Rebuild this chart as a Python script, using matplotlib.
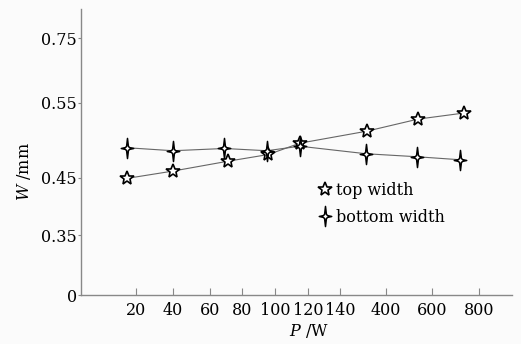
import numpy as np
import matplotlib
matplotlib.use('Agg')
import matplotlib.pyplot as plt
from matplotlib.path import Path

# data
top_p = [15, 40, 71, 96, 115, 292, 539, 734]
top_w = [0.449, 0.459, 0.472, 0.481, 0.496, 0.512, 0.528, 0.536]
bottom_p = [15, 40, 69, 95, 115, 287, 535, 720]
bottom_w = [0.490, 0.486, 0.489, 0.486, 0.492, 0.482, 0.478, 0.474]

x_ticks = [20, 40, 60, 80, 100, 120, 140, 400, 600, 800]
y_ticks = [0, 0.35, 0.45, 0.55, 0.75]
y_tick_labels = ['0', '0.35', '0.45', '0.55', '0.75']

# broken axes of the original: tick value -> position along the axis
x_anchor_val = [-20, 0, 20, 40, 60, 80, 100, 120, 140, 400, 600, 800, 1000]
x_anchor_pos = [62, 99, 136, 173, 210, 242, 275, 308, 340, 386, 432, 479, 526]
y_anchor_val = [-0.1, 0, 0.35, 0.45, 0.55, 0.75, 1.0]
y_anchor_pos = [-17, 0, 59.7, 117.3, 192.7, 257.3, 338]


def x_fwd(v):
    return np.interp(v, x_anchor_val, x_anchor_pos)


def x_inv(u):
    return np.interp(u, x_anchor_pos, x_anchor_val)


def y_fwd(v):
    return np.interp(v, y_anchor_val, y_anchor_pos)


def y_inv(u):
    return np.interp(u, y_anchor_pos, y_anchor_val)


# four pointed "sparkle" marker
c = 0.15
w = 0.62
sparkle = Path([(0, 1), (c * 0.6, c * 1.4), (c, c), (c * 1.4, c * 0.6), (w, 0),
                (c * 1.4, -c * 0.6), (c, -c), (c * 0.6, -c * 1.4), (0, -1),
                (-c * 0.6, -c * 1.4), (-c, -c), (-c * 1.4, -c * 0.6), (-w, 0),
                (-c * 1.4, c * 0.6), (-c, c), (-c * 0.6, c * 1.4), (0, 1)],
               [Path.MOVETO] + [Path.LINETO] * 15 + [Path.CLOSEPOLY])

plt.rcParams['font.family'] = 'DejaVu Serif'
plt.rcParams['mathtext.fontset'] = 'dejavuserif'

fig = plt.figure(figsize=(5.21, 3.44), dpi=100, facecolor='#fbfbfb')
ax = fig.add_axes([81 / 521, 1 - 295 / 344, 431 / 521, 286 / 344])
ax.set_facecolor('#fbfbfb')
ax.set_xscale('function', functions=(x_fwd, x_inv))
ax.set_yscale('function', functions=(y_fwd, y_inv))

ax.plot(top_p, top_w, color='#666666', lw=0.8, zorder=2)
ax.plot(bottom_p, bottom_w, color='#666666', lw=0.8, zorder=2)
ax.plot(top_p, top_w, ls='none', marker='*', ms=10.5, mfc='white', mec='black',
        mew=1.2, zorder=3, label='top width')
ax.plot(bottom_p, bottom_w, ls='none', marker=sparkle, ms=14.5, mfc='white',
        mec='black', mew=1.1, zorder=3, label='bottom width')

ax.set_xlim(-9.7, 940)
ax.set_ylim(0, 0.84)
ax.set_xticks(x_ticks)
ax.set_xticklabels([str(t) for t in x_ticks])
ax.set_yticks(y_ticks)
ax.set_yticklabels(y_tick_labels)
ax.minorticks_off()

for s in ['top', 'right']:
    ax.spines[s].set_visible(False)
for s in ['left', 'bottom']:
    ax.spines[s].set_color('#888888')
    ax.spines[s].set_linewidth(1.0)

ax.tick_params(axis='x', direction='in', length=5, width=0.8, color='#888888',
               labelsize=11.5, pad=5)
ax.tick_params(axis='y', direction='out', length=2.5, width=0.8, color='#888888',
               labelsize=11.5, pad=0.5)

fig.text(24 / 521, 1 - 172 / 344, '$W$ /mm', rotation=90, ha='center',
         va='center', fontsize=11.5)
fig.text(309 / 521, 1 - 331 / 344, '$P$ /W', ha='center', va='center',
         fontsize=11.5)

ax.legend(loc='upper left', bbox_to_anchor=(318 / 521, 1 - 182 / 344),
          bbox_transform=fig.transFigure, frameon=False, fontsize=11.5,
          handlelength=0.9, handletextpad=0.2, labelspacing=0.62,
          borderpad=0, borderaxespad=0)

fig.savefig('out.png', dpi=100, facecolor=fig.get_facecolor())
